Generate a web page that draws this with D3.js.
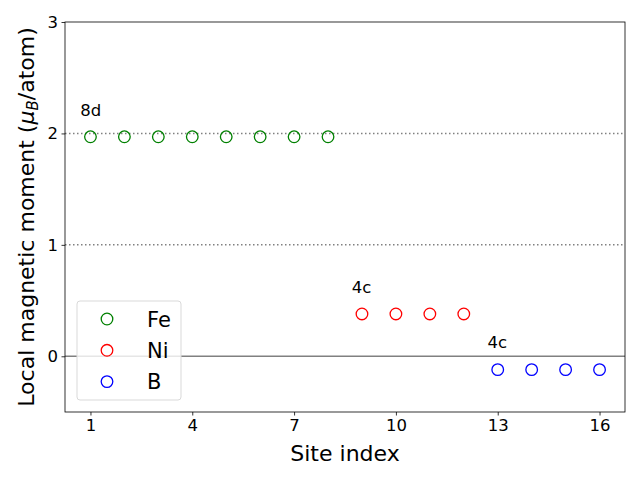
<!DOCTYPE html>
<html>
<head>
<meta charset="utf-8">
<script src="https://cdn.jsdelivr.net/npm/d3@7"></script>
<style>
body { margin: 0; background: #fff; }
text { font-family: "DejaVu Sans", sans-serif; }
</style>
</head>
<body>
<div id="chart"></div>
<script>
// data
var species = ["Fe", "Ni", "B"];
var colors = ["#008000", "#ff0000", "#0000ff"];
var siteLabels = ["8d", "4c", "4c"];
var feSites = [1, 2, 3, 4, 5, 6, 7, 8];
var niSites = [9, 10, 11, 12];
var bSites = [13, 14, 15, 16];
var feMoments = [1.97, 1.97, 1.97, 1.97, 1.97, 1.97, 1.97, 1.97];
var niMoments = [0.38, 0.38, 0.38, 0.38];
var bMoments = [-0.12, -0.12, -0.12, -0.12];
var xTicks = [1, 4, 7, 10, 13, 16];
var yTicks = [0, 1, 2, 3];
var dottedLevels = [1, 2];

var width = 640, height = 480;
var margin = {left: 65, right: 15, top: 22, bottom: 68};

var svg = d3.select("#chart").append("svg")
    .attr("width", width)
    .attr("height", height);

var x = d3.scaleLinear().domain([0.25, 16.75]).range([margin.left, width - margin.right]);
var y = d3.scaleLinear().domain([-0.5, 3]).range([height - margin.bottom, margin.top]);

var groups = [
    {name: species[0], color: colors[0], label: siteLabels[0], sites: feSites, values: feMoments},
    {name: species[1], color: colors[1], label: siteLabels[1], sites: niSites, values: niMoments},
    {name: species[2], color: colors[2], label: siteLabels[2], sites: bSites, values: bMoments}
];

// reference lines
svg.selectAll(".dotted")
    .data(dottedLevels)
    .enter()
    .append("line")
    .attr("x1", x.range()[0])
    .attr("x2", x.range()[1])
    .attr("y1", function (d) { return y(d); })
    .attr("y2", function (d) { return y(d); })
    .attr("stroke", "#808080")
    .attr("stroke-width", 1.5)
    .attr("stroke-dasharray", "1.5,2.5");

svg.append("line")
    .attr("x1", x.range()[0])
    .attr("x2", x.range()[1])
    .attr("y1", y(0))
    .attr("y2", y(0))
    .attr("stroke", "#808080")
    .attr("stroke-width", 1.5);

// points
groups.forEach(function (g) {
    svg.append("g").selectAll("circle")
        .data(g.sites)
        .enter()
        .append("circle")
        .attr("cx", function (d) { return x(d); })
        .attr("cy", function (d, i) { return y(g.values[i]); })
        .attr("r", 5.8)
        .attr("fill", "none")
        .attr("stroke", g.color)
        .attr("stroke-width", 1.3);

    svg.append("text")
        .attr("x", x(g.sites[0] - 0.3))
        .attr("y", y(g.values[0] + 0.19))
        .attr("font-size", "16.5px")
        .text(g.label);
});

// axes
var xAxis = svg.append("g")
    .attr("transform", "translate(0," + y.range()[0] + ")")
    .call(d3.axisBottom(x).tickValues(xTicks).tickFormat(d3.format("d")).tickSize(3.5).tickPadding(3.5));
var yAxis = svg.append("g")
    .attr("transform", "translate(" + x.range()[0] + ",0)")
    .call(d3.axisLeft(y).tickValues(yTicks).tickFormat(d3.format("d")).tickSize(3.5).tickPadding(3.5));

[xAxis, yAxis].forEach(function (a) {
    a.select(".domain").remove();
    a.selectAll("line").attr("stroke", "#000").attr("stroke-width", 0.8);
    a.selectAll("text").attr("font-size", "16.5px").attr("fill", "#000")
        .style("font-family", "DejaVu Sans");
});

svg.append("rect")
    .attr("x", x.range()[0])
    .attr("y", y.range()[1])
    .attr("width", x.range()[1] - x.range()[0])
    .attr("height", y.range()[0] - y.range()[1])
    .attr("fill", "none")
    .attr("stroke", "#000")
    .attr("stroke-width", 0.8);

// axis labels
svg.append("text")
    .attr("x", (x.range()[0] + x.range()[1]) / 2)
    .attr("y", 461)
    .attr("text-anchor", "middle")
    .attr("font-size", "22px")
    .text("Site index");

var yl = svg.append("text")
    .attr("transform", "translate(34," + ((y.range()[0] + y.range()[1]) / 2) + ") rotate(-90)")
    .attr("text-anchor", "middle")
    .attr("font-size", "22px");
yl.append("tspan").text("Local magnetic moment (");
yl.append("tspan").attr("font-style", "italic").text("\u03bc");
yl.append("tspan").attr("font-style", "italic").attr("font-size", "15px").attr("dy", 4).text("B");
yl.append("tspan").attr("dy", -4).text("/atom)");

// legend
var legend = svg.append("g").attr("transform", "translate(77,301)");
legend.append("rect")
    .attr("width", 104)
    .attr("height", 99)
    .attr("rx", 3)
    .attr("fill", "#fff")
    .attr("fill-opacity", 0.8)
    .attr("stroke", "#d9d9d9")
    .attr("stroke-width", 1);

var item = legend.selectAll(".item")
    .data(groups)
    .enter()
    .append("g")
    .attr("transform", function (d, i) { return "translate(0," + (18 + i * 31.3) + ")"; });
item.append("circle")
    .attr("cx", 30)
    .attr("r", 5.8)
    .attr("fill", "none")
    .attr("stroke", function (d) { return d.color; })
    .attr("stroke-width", 1.3);
item.append("text")
    .attr("x", 70)
    .attr("dy", "0.36em")
    .attr("font-size", "21px")
    .text(function (d) { return d.name; });
</script>
</body>
</html>
